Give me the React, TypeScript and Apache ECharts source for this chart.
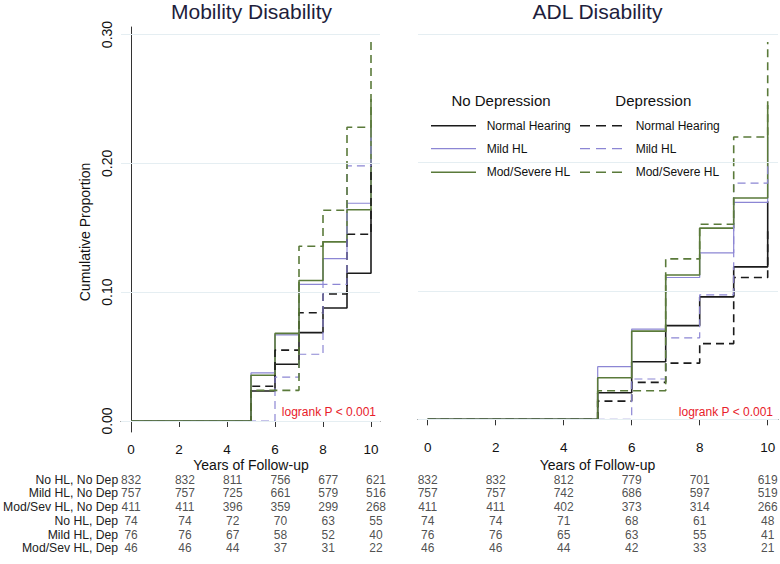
import React, { useEffect, useRef } from 'react';
import * as echarts from 'echarts';

const times = [0, 5, 6, 7, 8, 9, 10];
const xTicks = [0, 2, 4, 6, 8, 10];
const yTicks = [0, 0.1, 0.2, 0.3];

const panelTitles = ['Mobility Disability', 'ADL Disability'];
const groupNames = ['Normal Hearing', 'Mild HL', 'Mod/Severe HL'];

// Mobility disability – cumulative proportion at each time in `times`
const mobNoDepNormal = [0, 0.0233, 0.044, 0.0686, 0.0877, 0.1147, 0.165];
const mobNoDepMild = [0, 0.0373, 0.0668, 0.106, 0.126, 0.169, 0.23];
const mobNoDepMod = [0, 0.0355, 0.068, 0.109, 0.139, 0.164, 0.25];
const mobDepNormal = [0, 0.027, 0.055, 0.084, 0.0986, 0.145, 0.2];
const mobDepMild = [0, 0, 0.034, 0.0518, 0.106, 0.198, 0.22];
const mobDepMod = [0, 0.0238, 0.0238, 0.1356, 0.1636, 0.228, 0.298];

// ADL disability
const adlNoDepNormal = [0, 0.0207, 0.0448, 0.073, 0.0954, 0.1188, 0.17];
const adlNoDepMild = [0, 0.041, 0.0703, 0.1105, 0.1297, 0.169, 0.22];
const adlNoDepMod = [0, 0.0324, 0.0687, 0.1125, 0.149, 0.1725, 0.245];
const adlDepNormal = [0, 0.0142, 0.0288, 0.0438, 0.059, 0.1105, 0.15];
const adlDepMild = [0, 0, 0.0314, 0.0635, 0.097, 0.184, 0.2];
const adlDepMod = [0, 0.0223, 0.0223, 0.125, 0.152, 0.22, 0.294];

const riskRows = ['No HL, No Dep', 'Mild HL, No Dep', 'Mod/Sev HL, No Dep', 'No HL, Dep', 'Mild HL, Dep', 'Mod/Sev HL, Dep'];
const mobRisk = [
  [832, 832, 811, 756, 677, 621],
  [757, 757, 725, 661, 579, 516],
  [411, 411, 396, 359, 299, 268],
  [74, 74, 72, 70, 63, 55],
  [76, 76, 67, 58, 52, 40],
  [46, 46, 44, 37, 31, 22],
];
const adlRisk = [
  [832, 832, 812, 779, 701, 619],
  [757, 757, 742, 686, 597, 519],
  [411, 411, 402, 373, 314, 266],
  [74, 74, 71, 68, 61, 48],
  [76, 76, 65, 63, 55, 41],
  [46, 46, 44, 42, 33, 21],
];

const FONT = '"Liberation Sans", Arial, sans-serif';
const BLACK = '#1b1b1b';
const PURPLE = '#8c86d4';
const GREEN = '#5a7a3a';
const GRIDC = '#e5eef2';
const DASH = [8, 5];

const colors = [BLACK, PURPLE, GREEN];
const widths = [1.6, 1.2, 1.6];

export default function App() {
  const ref = useRef<HTMLDivElement>(null);
  useEffect(() => {
    if (!ref.current) return;
    const chart = echarts.init(ref.current, undefined, { renderer: 'svg' });

    const panels = [
      { noDep: [mobNoDepNormal, mobNoDepMild, mobNoDepMod], dep: [mobDepNormal, mobDepMild, mobDepMod] },
      { noDep: [adlNoDepNormal, adlNoDepMild, adlNoDepMod], dep: [adlDepNormal, adlDepMild, adlDepMod] },
    ];

    const series: any[] = [];
    panels.forEach((p, pi) => {
      series.push({
        type: 'line',
        name: 'grid' + pi,
        xAxisIndex: pi,
        yAxisIndex: pi,
        data: [],
        z: 1,
        silent: true,
        markLine: {
          silent: true,
          symbol: ['none', 'none'],
          label: { show: false },
          lineStyle: { color: GRIDC, width: 1, type: 'solid' },
          emphasis: { disabled: true },
          data: yTicks.map((v) => ({ yAxis: v })),
        },
      });
      const all = [
        ...p.noDep.map((d, i) => ({ d, i, dashed: false })),
        ...p.dep.map((d, i) => ({ d, i, dashed: true })),
      ];
      all.forEach(({ d, i, dashed }) => {
        series.push({
          type: 'line',
          name: (dashed ? 'Depression ' : 'No Depression ') + groupNames[i],
          xAxisIndex: pi,
          yAxisIndex: pi,
          step: 'end',
          symbol: 'none',
          z: 3,
          silent: true,
          lineStyle: { color: colors[i], width: widths[i], type: dashed ? DASH : 'solid' },
          data: times.map((t, k) => [t, d[k]]),
        });
      });
    });

    [mobRisk, adlRisk].forEach((risk, pi) => {
      const data: any[] = [];
      risk.forEach((row, r) => {
        row.forEach((n, k) => {
          const item: any = { value: [xTicks[k], r, n] };
          if (pi === 0) item.label = { offset: [k === 0 ? -1 : 5, 0] };
          data.push(item);
        });
      });
      series.push({
        type: 'scatter',
        xAxisIndex: 2 + pi,
        yAxisIndex: 2 + pi,
        symbolSize: 1,
        silent: true,
        itemStyle: { color: 'rgba(0,0,0,0)' },
        label: {
          show: true,
          position: 'inside',
          formatter: (pp: any) => String(pp.value[2]),
          fontSize: 12,
          lineHeight: 12,
          fontFamily: FONT,
          color: '#222',
        },
        data,
      });
    });

    const xAxisCommon = {
      type: 'value',
      axisLine: { show: true, lineStyle: { color: '#333', width: 1 } },
      axisTick: { show: true, customValues: xTicks, length: 6, lineStyle: { color: '#333' } },
      axisLabel: { customValues: xTicks, fontSize: 13.5, lineHeight: 14, fontFamily: FONT, color: '#111', margin: 10.5 },
      splitLine: { show: false },
    };

    const legendRows = [125.7, 148.7, 172.3];
    const graphic: any[] = [
      { type: 'text', x: 251.5, y: 11.5, style: { text: panelTitles[0], fill: '#1e1e3c', fontSize: 21, fontFamily: FONT, align: 'center', verticalAlign: 'middle' } },
      { type: 'text', x: 597.5, y: 11.5, style: { text: panelTitles[1], fill: '#1e1e3c', fontSize: 21, fontFamily: FONT, align: 'center', verticalAlign: 'middle' } },
      { type: 'text', x: 85, y: 232, rotation: Math.PI / 2, style: { text: 'Cumulative Proportion', fill: '#111', fontSize: 14, fontFamily: FONT, align: 'center', verticalAlign: 'middle' } },
      { type: 'text', x: 251, y: 465, style: { text: 'Years of Follow-up', fill: '#111', fontSize: 14, lineHeight: 14, fontFamily: FONT, align: 'center', verticalAlign: 'middle' } },
      { type: 'text', x: 597.5, y: 465, style: { text: 'Years of Follow-up', fill: '#111', fontSize: 14, lineHeight: 14, fontFamily: FONT, align: 'center', verticalAlign: 'middle' } },
      { type: 'text', x: 376, y: 411.5, style: { text: 'logrank P < 0.001', fill: '#e8202a', fontSize: 12, fontFamily: FONT, align: 'right', verticalAlign: 'middle' } },
      { type: 'text', x: 773, y: 411.5, style: { text: 'logrank P < 0.001', fill: '#e8202a', fontSize: 12, fontFamily: FONT, align: 'right', verticalAlign: 'middle' } },
      { type: 'rect', shape: { x: 421, y: 84, width: 292, height: 102 }, style: { fill: '#fff' } },
      { type: 'text', x: 501, y: 100, style: { text: 'No Depression', fill: '#111', fontSize: 15, fontFamily: FONT, align: 'center', verticalAlign: 'middle' } },
      { type: 'text', x: 653.3, y: 100, style: { text: 'Depression', fill: '#111', fontSize: 15, fontFamily: FONT, align: 'center', verticalAlign: 'middle' } },
    ];
    groupNames.forEach((g, i) => {
      const y = legendRows[i];
      graphic.push({ type: 'line', shape: { x1: 431, y1: y, x2: 476, y2: y }, style: { stroke: colors[i], lineWidth: widths[i] } });
      graphic.push({ type: 'line', shape: { x1: 580, y1: y, x2: 625, y2: y }, style: { stroke: colors[i], lineWidth: widths[i], lineDash: [10, 6] } });
      graphic.push({ type: 'text', x: 486.7, y, style: { text: g, fill: '#111', fontSize: 12, fontFamily: FONT, align: 'left', verticalAlign: 'middle' } });
      graphic.push({ type: 'text', x: 635.7, y, style: { text: g, fill: '#111', fontSize: 12, fontFamily: FONT, align: 'left', verticalAlign: 'middle' } });
    });

    chart.setOption({
      animation: false,
      backgroundColor: '#fff',
      grid: [
        { left: 121, top: 27, width: 259, height: 405 },
        { left: 418, top: 27, width: 360, height: 403 },
        { left: 121, top: 472.8, width: 259, height: 82.3 },
        { left: 418, top: 472.8, width: 360, height: 82.3 },
      ],
      xAxis: [
        { ...xAxisCommon, gridIndex: 0, min: -10 / 24, max: 10 + 9 / 24 },
        { ...xAxisCommon, gridIndex: 1, min: -9.7 / 34, max: 10 + 10.3 / 34 },
        { type: 'value', gridIndex: 2, min: -10 / 24, max: 10 + 9 / 24, show: false },
        { type: 'value', gridIndex: 3, min: -9.7 / 34, max: 10 + 10.3 / 34, show: false },
      ],
      yAxis: [
        {
          type: 'value',
          gridIndex: 0,
          min: -11 / 1288,
          max: 0.3 + 7.5 / 1288,
          axisLine: { show: true, lineStyle: { color: '#333', width: 1 } },
          axisTick: { show: true, customValues: yTicks, length: 5, lineStyle: { color: '#333' } },
          axisLabel: {
            customValues: yTicks,
            rotate: 90,
            margin: 7,
            fontSize: 14,
            fontFamily: FONT,
            color: '#111',
            formatter: (v: number) => v.toFixed(2),
          },
          splitLine: { show: false },
        },
        { type: 'value', gridIndex: 1, min: -10.7 / 1285, max: 0.3 + 7.3 / 1285, show: false },
        {
          type: 'category',
          gridIndex: 2,
          data: riskRows,
          inverse: true,
          axisLine: { show: false },
          axisTick: { show: false },
          axisLabel: { interval: 0, fontSize: 12.2, lineHeight: 12, fontFamily: FONT, color: '#222', margin: 4 },
          splitLine: { show: false },
        },
        { type: 'category', gridIndex: 3, data: riskRows, inverse: true, show: false },
      ],
      graphic,
      series,
    });
    return () => chart.dispose();
  }, []);
  return <div ref={ref} style={{ position: 'fixed', left: 0, top: 0, width: 780, height: 564, background: '#fff' }} />;
}
